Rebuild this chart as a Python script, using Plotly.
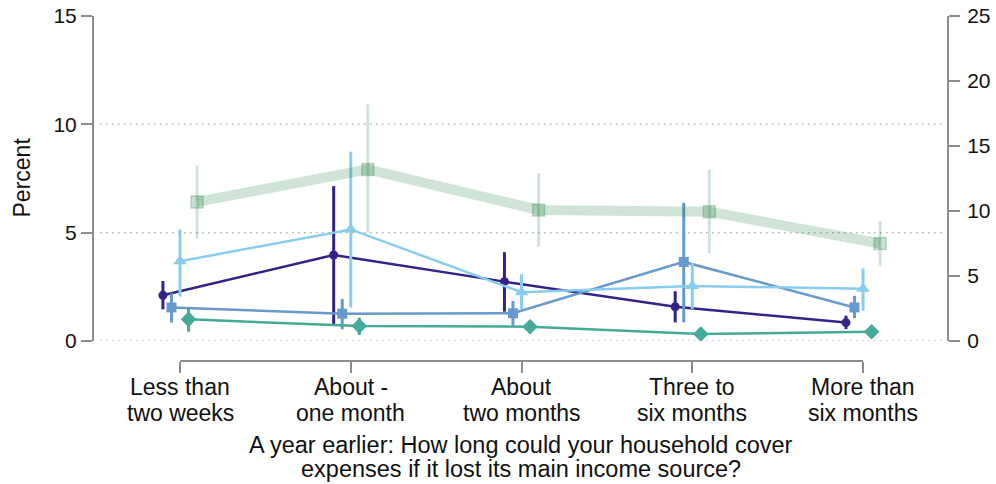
import plotly.graph_objects as go

# Categories on the x axis (two lines each)
categories = [
    ["Less than", "two weeks"],
    ["About -", "one month"],
    ["About", "two months"],
    ["Three to", "six months"],
    ["More than", "six months"],
]

# Left-axis series (percent): point estimate, lower and upper bound
navy_val = [2.11, 3.97, 2.74, 1.58, 0.85]
navy_lo = [1.46, 0.78, 1.35, 0.86, 0.55]
navy_hi = [2.77, 7.15, 4.10, 2.30, 1.17]

blue_val = [1.55, 1.26, 1.28, 3.65, 1.55]
blue_lo = [0.85, 0.54, 0.71, 0.86, 1.05]
blue_hi = [2.20, 1.94, 1.85, 6.38, 2.09]

cyan_val = [3.68, 5.15, 2.25, 2.54, 2.41]
cyan_lo = [2.05, 1.55, 1.48, 1.48, 1.40]
cyan_hi = [5.15, 8.74, 3.08, 3.59, 3.35]

teal_val = [1.00, 0.69, 0.66, 0.32, 0.43]
teal_lo = [0.43, 0.28, 0.36, 0.22, 0.33]
teal_hi = [1.55, 1.08, 0.94, 0.42, 0.53]

# Right-axis series
green_val = [10.7, 13.2, 10.08, 9.95, 7.5]
green_lo = [7.9, 8.33, 7.25, 6.75, 5.77]
green_hi = [13.5, 18.2, 12.9, 13.2, 9.23]

left_ticks = [0, 5, 10, 15]
right_ticks = [0, 5, 10, 15, 20, 25]

x_title = ["A year earlier: How long could your household cover",
           "expenses if it lost its main income source?"]

AXIS_GREY = "#8c8c8c"
TEXT = "#111111"
FONT = "Liberation Sans, Arial, sans-serif"
idx = list(range(len(categories)))


def dodge(offset):
    return [i + offset for i in idx]


def err(val, lo, hi):
    return dict(
        plus=[h - v for v, h in zip(val, hi)],
        minus=[v - l for v, l in zip(val, lo)],
    )


fig = go.Figure()

# Right-axis series drawn first so it sits behind the others
ge = err(green_val, green_lo, green_hi)
fig.add_trace(go.Scatter(
    x=dodge(0.10), y=green_val, yaxis="y2", mode="lines+markers",
    line=dict(color="rgba(17,119,51,0.2)", width=10),
    marker=dict(symbol="square", size=12, color="rgba(17,119,51,0.22)",
                line=dict(color="rgba(17,119,51,0.25)", width=1.5)),
    error_y=dict(type="data", array=ge["plus"], arrayminus=ge["minus"],
                 color="rgba(17,119,51,0.2)", thickness=3, width=0),
    showlegend=False, hoverinfo="skip",
))

left_series = [
    (navy_val, navy_lo, navy_hi, -0.10, "#332288", "circle", 9),
    (blue_val, blue_lo, blue_hi, -0.05, "#6699CC", "square", 10),
    (cyan_val, cyan_lo, cyan_hi, 0.00, "#88CCEE", "triangle-up", 12),
    (teal_val, teal_lo, teal_hi, 0.05, "#44AA99", "diamond", 12),
]
for val, lo, hi, off, col, sym, sz in left_series:
    e = err(val, lo, hi)
    fig.add_trace(go.Scatter(
        x=dodge(off), y=val, mode="lines+markers",
        line=dict(color=col, width=2.5),
        marker=dict(symbol=sym, size=sz, color=col),
        error_y=dict(type="data", array=e["plus"], arrayminus=e["minus"],
                     color=col, thickness=3, width=0),
        showlegend=False, hoverinfo="skip",
    ))

shapes = []
# Dotted horizontal grid on the left scale (no line along the top edge)
for v in left_ticks[:-1]:
    shapes.append(dict(type="line", xref="x domain", x0=0, x1=1, yref="y",
                       y0=v, y1=v, layer="below",
                       line=dict(color="#b0b0b0", width=1.5, dash="1.5px,4.5px")))
# Bracket line joining the category ticks
shapes.append(dict(type="line", xref="x", x0=idx[0], x1=idx[-1], yref="paper",
                   y0=0, y1=0, line=dict(color=AXIS_GREY, width=2)))

annotations = [
    dict(text="Percent", textangle=-90, xref="paper", yref="paper",
         x=-0.083, y=0.532, xanchor="center", yanchor="middle",
         showarrow=False, font=dict(size=23, color=TEXT, family=FONT)),
]
# Category labels, one annotation per line for tight line spacing
for i, lines in zip(idx, categories):
    for k, line in enumerate(lines):
        annotations.append(dict(
            text=line, xref="x", yref="paper", x=i, y=[-0.0754, -0.1507][k],
            xanchor="center", yanchor="middle", showarrow=False,
            font=dict(size=23, color=TEXT, family=FONT)))
# Axis title, two lines
for k, line in enumerate(x_title):
    annotations.append(dict(
        text=line, xref="paper", yref="paper", x=0.5, y=[-0.2435, -0.313][k],
        xanchor="center", yanchor="middle", showarrow=False,
        font=dict(size=23.5, color=TEXT, family=FONT)))

axis_common = dict(
    showline=True, linecolor=AXIS_GREY, linewidth=2,
    ticks="outside", ticklen=11, tickwidth=2, tickcolor=AXIS_GREY,
    showgrid=False, zeroline=False, automargin=False,
    tickfont=dict(size=21, color=TEXT, family=FONT),
)

fig.update_layout(
    width=996, height=484,
    margin=dict(l=93, r=48, t=16, b=123, autoexpand=False),
    plot_bgcolor="white", paper_bgcolor="white",
    font=dict(family=FONT, color=TEXT),
    showlegend=False,
    shapes=shapes,
    annotations=annotations,
    xaxis=dict(
        domain=[7 / 855, 852 / 855], range=[-0.4685, 4.48],
        anchor="free", position=0,
        tickmode="array", tickvals=idx, showticklabels=False,
        showline=False, showgrid=False, zeroline=False, automargin=False,
        ticks="outside", ticklen=11, tickwidth=2, tickcolor=AXIS_GREY,
    ),
    yaxis=dict(
        domain=[20 / 345, 1], range=[0, 15],
        anchor="free", position=0, side="left",
        tickmode="array", tickvals=left_ticks,
        **axis_common,
    ),
    yaxis2=dict(
        range=[0, 25], overlaying="y", anchor="free", position=1, side="right",
        tickmode="array", tickvals=right_ticks, ticklabelstandoff=3,
        **axis_common,
    ),
)

fig.write_html("out.html")
